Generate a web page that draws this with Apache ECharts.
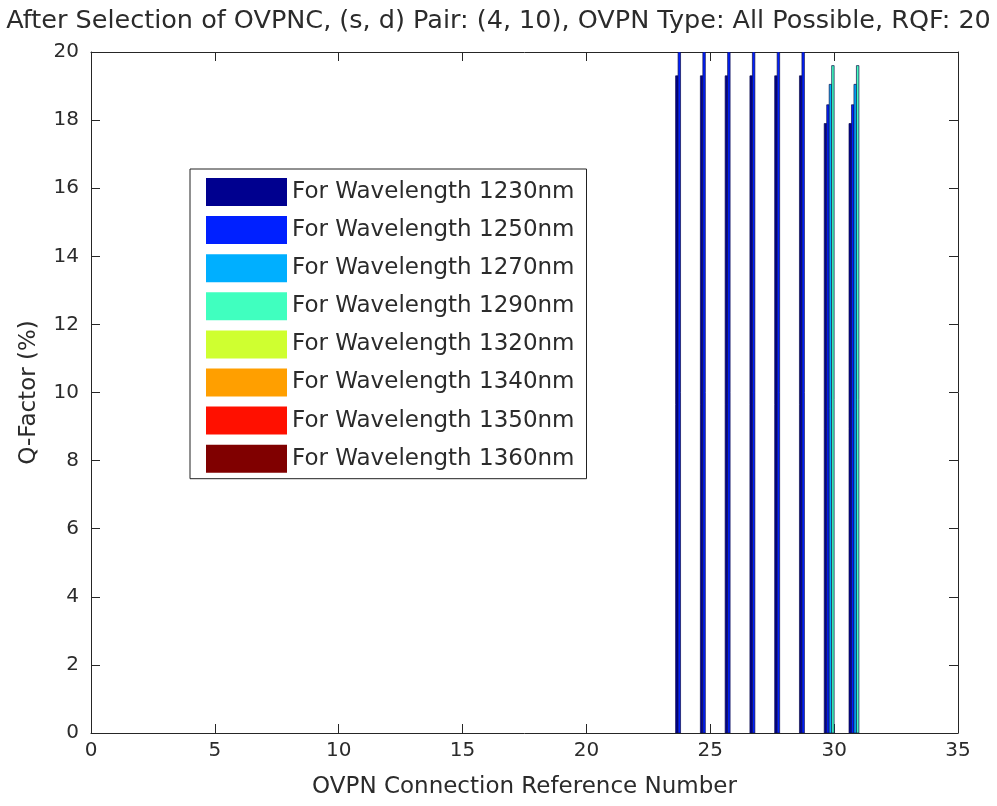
<!DOCTYPE html>
<html>
<head>
<meta charset="utf-8">
<style>
  html, body { margin: 0; padding: 0; background: #ffffff; }
  #chart { width: 997px; height: 806px; }
</style>
<script src="https://cdn.jsdelivr.net/npm/echarts@6/dist/echarts.min.js"></script>
</head>
<body>
<div id="chart"></div>
<script>
// OVPN connection reference numbers that carry a Q-factor value
const connections = [24, 25, 26, 27, 28, 29, 30, 31];

// Wavelength names shown in the legend
const wavelengths = ['1230', '1250', '1270', '1290', '1320', '1340', '1350', '1360'];

// Q-factor (%) per wavelength, one entry per connection above
const q1230 = [19.3, 19.3, 19.3, 19.3, 19.3, 19.3, 17.9, 17.9];
const q1250 = [20.5, 20.5, 20.5, 20.5, 20.5, 20.5, 18.45, 18.45];
const q1270 = [0, 0, 0, 0, 0, 0, 19.05, 19.05];
const q1290 = [0, 0, 0, 0, 0, 0, 19.6, 19.6];
const q1320 = [0, 0, 0, 0, 0, 0, 0, 0];
const q1340 = [0, 0, 0, 0, 0, 0, 0, 0];
const q1350 = [0, 0, 0, 0, 0, 0, 0, 0];
const q1360 = [0, 0, 0, 0, 0, 0, 0, 0];

// Axis tick labels
const xTicks = [0, 5, 10, 15, 20, 25, 30, 35];
const yTicks = [0, 2, 4, 6, 8, 10, 12, 14, 16, 18, 20];

const qSeries = [q1230, q1250, q1270, q1290, q1320, q1340, q1350, q1360];
const jetColors = ['#00008F', '#0020FF', '#00AFFF', '#40FFBF', '#CFFF30', '#FF9F00', '#FF1000', '#800000'];

const xMin = xTicks[0], xMax = xTicks[xTicks.length - 1];
const yMin = yTicks[0], yMax = yTicks[yTicks.length - 1];
const groupStep = 0.1;   // spacing between bars of one group, in axis units
const barW = 0.1;        // bar width, in axis units
const nSeries = wavelengths.length;

const textColor = '#2b2b2b';
const lineColor = '#262626';
const font = 'DejaVu Sans, Liberation Sans, Arial, sans-serif';

function makeSeries(idx) {
  const offset = (idx - (nSeries - 1) / 2) * groupStep;
  return {
    type: 'custom',
    name: 'For Wavelength ' + wavelengths[idx] + 'nm',
    xAxisIndex: 0,
    yAxisIndex: 0,
    clip: true,
    itemStyle: { color: jetColors[idx] },
    data: connections.map((c, i) => [c, qSeries[idx][i]]),
    renderItem: function (params, api) {
      const v = Math.min(api.value(1), yMax);
      if (!(v > 0)) return null;
      const x = api.value(0) + offset;
      const p0 = api.coord([x - barW / 2, v]);
      const p1 = api.coord([x + barW / 2, 0]);
      return {
        type: 'rect',
        shape: { x: p0[0], y: p0[1], width: p1[0] - p0[0], height: p1[1] - p0[1] },
        style: { fill: jetColors[idx], stroke: '#10104a', lineWidth: 0.7 }
      };
    }
  };
}

const axisCommon = {
  axisLine: { show: true, onZero: false, lineStyle: { color: lineColor, width: 1 } },
  axisTick: { show: true, inside: true, length: 9, lineStyle: { color: lineColor } },
  splitLine: { show: false }
};

const chart = echarts.init(document.getElementById('chart'), null, { renderer: 'canvas' });
chart.setOption({
  backgroundColor: '#ffffff',
  animation: false,
  title: {
    text: 'After Selection of OVPNC, (s, d) Pair: (4, 10), OVPN Type: All Possible, RQF: 20',
    left: 'center',
    top: 3,
    textStyle: { fontFamily: font, fontSize: 25.5, fontWeight: 'normal', color: textColor }
  },
  grid: { left: 91, top: 52, width: 867, height: 681, containLabel: false },
  legend: {
    orient: 'vertical',
    left: 190,
    top: 169,
    padding: [9, 12, 6, 16],
    itemWidth: 81,
    itemHeight: 28,
    itemGap: 10.1,
    icon: 'rect',
    borderColor: '#222',
    borderWidth: 1,
    backgroundColor: '#ffffff',
    textStyle: { fontFamily: font, fontSize: 23, color: textColor },
    data: wavelengths.map(w => 'For Wavelength ' + w + 'nm')
  },
  xAxis: [
    Object.assign({}, axisCommon, {
      type: 'value', position: 'bottom', min: xMin, max: xMax, interval: 5,
      name: 'OVPN Connection Reference Number',
      nameLocation: 'middle', nameGap: 43,
      nameTextStyle: { fontFamily: font, fontSize: 23, color: textColor },
      axisLabel: { fontFamily: font, fontSize: 20, color: textColor, margin: 8 }
    }),
    Object.assign({}, axisCommon, {
      type: 'value', position: 'top', min: xMin, max: xMax, interval: 5,
      axisLabel: { show: false }
    })
  ],
  yAxis: [
    Object.assign({}, axisCommon, {
      type: 'value', position: 'left', min: yMin, max: yMax, interval: 2,
      name: 'Q-Factor (%)',
      nameLocation: 'middle', nameGap: 50, nameRotate: 90,
      nameTextStyle: { fontFamily: font, fontSize: 23, color: textColor },
      axisLabel: { fontFamily: font, fontSize: 20, color: textColor, margin: 12 }
    }),
    Object.assign({}, axisCommon, {
      type: 'value', position: 'right', min: yMin, max: yMax, interval: 2,
      axisLabel: { show: false }
    })
  ],
  series: wavelengths.map((w, i) => makeSeries(i))
});
</script>
</body>
</html>
